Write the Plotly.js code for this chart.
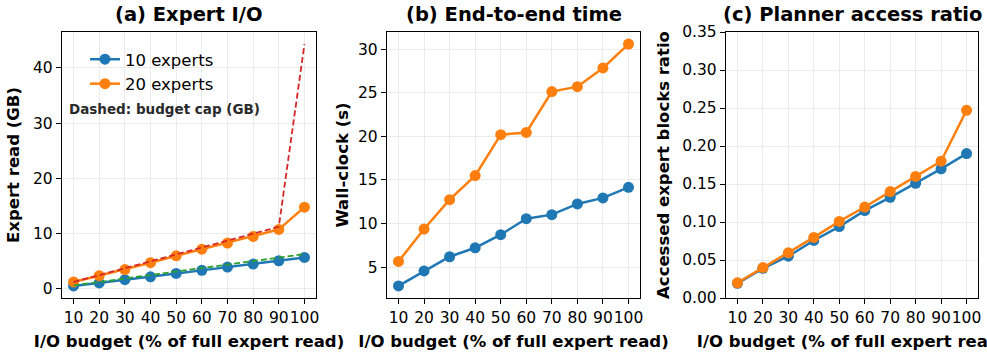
<!DOCTYPE html>
<html>
<head>
<meta charset="utf-8">
<script src="https://cdn.plot.ly/plotly-3.0.1.min.js"></script>
<style>html,body{margin:0;padding:0;background:#fff;}#chart{width:987px;height:357px;}</style>
</head>
<body>
<div id="chart"></div>
<script>
// ---- data ----
const budgets = [10, 20, 30, 40, 50, 60, 70, 80, 90, 100];
const tickLabels = ["10", "20", "30", "40", "50", "60", "70", "80", "90", "100"];

// (a) Expert I/O (GB)
const expertRead10 = [0.55, 1.08, 1.68, 2.2, 2.8, 3.36, 3.96, 4.5, 5.1, 5.7];
const expertRead20 = [1.26, 2.4, 3.5, 4.75, 6.0, 7.2, 8.3, 9.5, 10.76, 14.8];
const budgetCap10 = [0.63, 1.26, 1.89, 2.52, 3.15, 3.78, 4.41, 5.04, 5.67, 6.3];
const budgetCap20 = [1.25, 2.5, 3.75, 5.0, 6.25, 7.5, 8.75, 10.0, 11.25, 44.3];

// (b) End-to-end time (s)
const wallclock10 = [2.85, 4.57, 6.19, 7.22, 8.72, 10.56, 11.02, 12.25, 12.94, 14.16];
const wallclock20 = [5.65, 9.37, 12.74, 15.5, 20.19, 20.45, 25.14, 25.7, 27.85, 30.58];

// (c) Planner access ratio
const ratio10 = [0.0193, 0.039, 0.055, 0.0757, 0.094, 0.115, 0.1325, 0.151, 0.17, 0.19];
const ratio20 = [0.02, 0.04, 0.0594, 0.0797, 0.1008, 0.1197, 0.14, 0.16, 0.18, 0.247];

const seriesNames = ["10 experts", "20 experts"];
const panelTitles = ["(a) Expert I/O", "(b) End-to-end time", "(c) Planner access ratio"];
const yTitles = ["Expert read (GB)", "Wall-clock (s)", "Accessed expert blocks ratio"];
const xTitle = "I/O budget (% of full expert read)";
const annotationText = "Dashed: budget cap (GB)";

// ---- styles ----
const BLUE = "#1f77b4", ORANGE = "#ff7f0e", RED = "#d62728", GREEN = "#2ca02c";
const FONT = "DejaVu Sans, sans-serif";

function lineTrace(x, y, color, name, xa, ya, showlegend) {
  return {
    x: x, y: y, name: name, type: "scatter", mode: "lines+markers",
    xaxis: xa, yaxis: ya, showlegend: showlegend,
    line: {color: color, width: 2.5},
    marker: {color: color, size: 11},
    hoverinfo: "x+y"
  };
}
function dashTrace(x, y, color, xa, ya) {
  return {
    x: x, y: y, type: "scatter", mode: "lines", xaxis: xa, yaxis: ya,
    showlegend: false, line: {color: color, width: 1.8, dash: "6px,3px"}
  };
}

const traces = [
  lineTrace(budgets, expertRead10, BLUE, seriesNames[0], "x", "y", true),
  lineTrace(budgets, expertRead20, ORANGE, seriesNames[1], "x", "y", true),
  dashTrace(budgets, budgetCap20, RED, "x", "y"),
  dashTrace(budgets, budgetCap10, GREEN, "x", "y"),
  lineTrace(budgets, wallclock10, BLUE, seriesNames[0], "x2", "y2", false),
  lineTrace(budgets, wallclock20, ORANGE, seriesNames[1], "x2", "y2", false),
  lineTrace(budgets, ratio10, BLUE, seriesNames[0], "x3", "y3", false),
  lineTrace(budgets, ratio20, ORANGE, seriesNames[1], "x3", "y3", false)
];

const W = 987, H = 357;
const yDom = [(H - 298) / H, (H - 32) / H];

function xAxis(dom, anchor) {
  return {
    domain: dom, anchor: anchor, range: [5.5, 104.5],
    tickmode: "array", tickvals: budgets, ticktext: tickLabels, tickangle: 0,
    ticks: "outside", ticklen: 5, tickwidth: 1, tickcolor: "#000",
    showline: true, mirror: true, linecolor: "#000", linewidth: 1.25,
    showgrid: true, gridcolor: "#e6e6e6", gridwidth: 0.8, zeroline: false,
    tickfont: {family: FONT, size: 15.5, color: "#000"},
    title: {text: xTitle, font: {family: FONT, size: 16.5, color: "#000", weight: "bold"}, standoff: 9}
  };
}
function yAxis(range, dtick, title, anchor, fmt, standoff) {
  const a = {
    domain: yDom, anchor: anchor, range: range, dtick: dtick, tick0: 0,
    ticks: "outside", ticklen: 5, tickwidth: 1, tickcolor: "#000",
    showline: true, mirror: true, linecolor: "#000", linewidth: 1.25,
    showgrid: true, gridcolor: "#e6e6e6", gridwidth: 0.8, zeroline: false,
    tickfont: {family: FONT, size: 15.5, color: "#000"},
    title: {text: title, font: {family: FONT, size: 16.5, color: "#000", weight: "bold"}, standoff: standoff}
  };
  if (fmt) a.tickformat = fmt;
  return a;
}

const doms = [[62 / W, 316 / W], [387 / W, 640 / W], [726 / W, 978 / W]];
const titleAnn = panelTitles.map((t, i) => ({
  text: "<b>" + t + "</b>", xref: "paper", yref: "paper",
  x: (doms[i][0] + doms[i][1]) / 2, y: (H - 15) / H,
  xanchor: "center", yanchor: "middle", showarrow: false,
  font: {family: FONT, size: 19.5, color: "#000"}
}));

const layout = {
  width: W, height: H,
  margin: {l: 0, r: 0, t: 0, b: 0},
  paper_bgcolor: "#fff", plot_bgcolor: "#fff",
  showlegend: true,
  legend: {
    x: 85 / W, y: (H - 42) / H, xanchor: "left", yanchor: "top",
    bgcolor: "rgba(255,255,255,0)", borderwidth: 0,
    font: {family: FONT, size: 16.5, color: "#000"}
  },
  xaxis: xAxis(doms[0], "y"),
  xaxis2: xAxis(doms[1], "y2"),
  xaxis3: xAxis(doms[2], "y3"),
  yaxis: yAxis([-1.64, 46.5], 10, yTitles[0], "x", null, 9),
  yaxis2: yAxis([1.46, 31.97], 5, yTitles[1], "x2", null, 5),
  yaxis3: yAxis([0, 0.35], 0.05, yTitles[2], "x3", ".2f", 8),
  annotations: titleAnn.concat([{
    text: "<b>" + annotationText + "</b>", xref: "paper", yref: "paper",
    x: 67 / W, y: (H - 109) / H, xanchor: "left", yanchor: "middle",
    showarrow: false, font: {family: FONT, size: 13.5, color: "#2a2a2a"}
  }])
};

Plotly.newPlot("chart", traces, layout, {displayModeBar: false, staticPlot: true});
</script>
</body>
</html>
